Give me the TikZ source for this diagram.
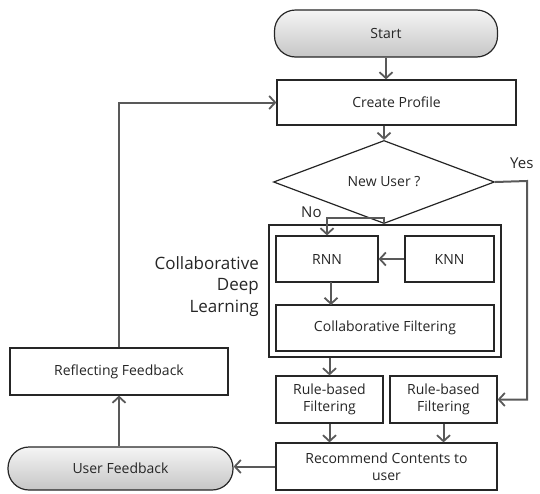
\documentclass[tikz,border=0pt]{standalone}
\usepackage{fontspec}
\setmainfont{Open Sans}
\usetikzlibrary{arrows.meta,shapes.geometric,calc}
\begin{document}
\begin{tikzpicture}[x=1pt,y=-1pt,
  every node/.style={font=\fontsize{14}{17}\selectfont, text=black!85, inner sep=0pt},
  box/.style={draw=black!85, line width=1.2pt, fill=white, rectangle, align=center},
  term/.style={draw=black!85, line width=1.2pt, rounded corners=21pt, top color=gray!8, bottom color=gray!45, align=center},
  conn/.style={draw=black!65, line width=2pt, -{Straight Barb[length=6pt,width=13pt,line width=1.8pt]}},
  line/.style={draw=black!65, line width=2pt}]
\useasboundingbox (0,0) rectangle (540,493);
\node[term, minimum width=223pt, minimum height=47pt] (start) at (386,33.5) {Start};
\node[box, minimum width=239pt, minimum height=45pt] (create) at (396.5,102.5) {Create Profile};
\node[draw=black!85, line width=1.2pt, diamond, minimum width=221pt, minimum height=64pt] (diamond) at (384,182) {New User ?};
\node[box, minimum width=232pt, minimum height=132pt] (outer) at (385,291) {};
\node[box, minimum width=102pt, minimum height=46pt] (rnn) at (327,259) {RNN};
\node[box, minimum width=89pt, minimum height=46pt] (knn) at (449.5,259) {KNN};
\node[box, minimum width=218pt, minimum height=46pt] (cf) at (385,328) {Collaborative Filtering};
\node[box, minimum width=107pt, minimum height=47pt] (ruleL) at (329.5,399.5) {Rule-based\\Filtering};
\node[box, minimum width=107pt, minimum height=47pt] (ruleR) at (443.5,399.5) {Rule-based\\Filtering};
\node[box, minimum width=221pt, minimum height=47pt] (rec) at (386.5,466.5) {Recommend Contents to\\user};
\node[term, minimum width=225pt, minimum height=43pt] (uf) at (120.5,468.5) {User Feedback};
\node[box, minimum width=218pt, minimum height=47pt] (refl) at (119,371.5) {Reflecting Feedback};
\node[font=\fontsize{17}{21.5}\selectfont, align=right, anchor=north east] (cdl) at (259,256) {Collaborative\\Deep\\Learning};
\node[font=\fontsize{15}{17}\selectfont, anchor=south west] (yes) at (510,169) {Yes};
\node[font=\fontsize{15}{17}\selectfont, anchor=south west] (no) at (301,218) {No};
\coordinate (yesturn) at (527,181);
\coordinate (noturn) at (327,218);
\draw[conn] (start.south) -- (start.south |- create.north);
\draw[conn] (diamond.north |- create.south) -- (diamond.north);
\draw[conn] (diamond.east) -- (yesturn) |- (ruleR.east);
\draw[conn] (diamond.south) -- (diamond.south |- noturn) -- (noturn) -- (rnn.north);
\draw[conn] (knn.west) -- (rnn.east);
\draw[conn] (331,282) -- (331,305);
\draw[conn] (outer.south -| ruleL.north) -- (ruleL.north);
\draw[conn] (ruleL.south) -- (ruleL.south |- rec.north);
\draw[conn] (ruleR.south) -- (ruleR.south |- rec.north);
\draw[conn] (rec.west) -- (rec.west -| uf.east);
\draw[conn] (uf.north -| refl.south) -- (refl.south);
\draw[conn] (refl.north) |- (create.west);
\end{tikzpicture}
\end{document}
